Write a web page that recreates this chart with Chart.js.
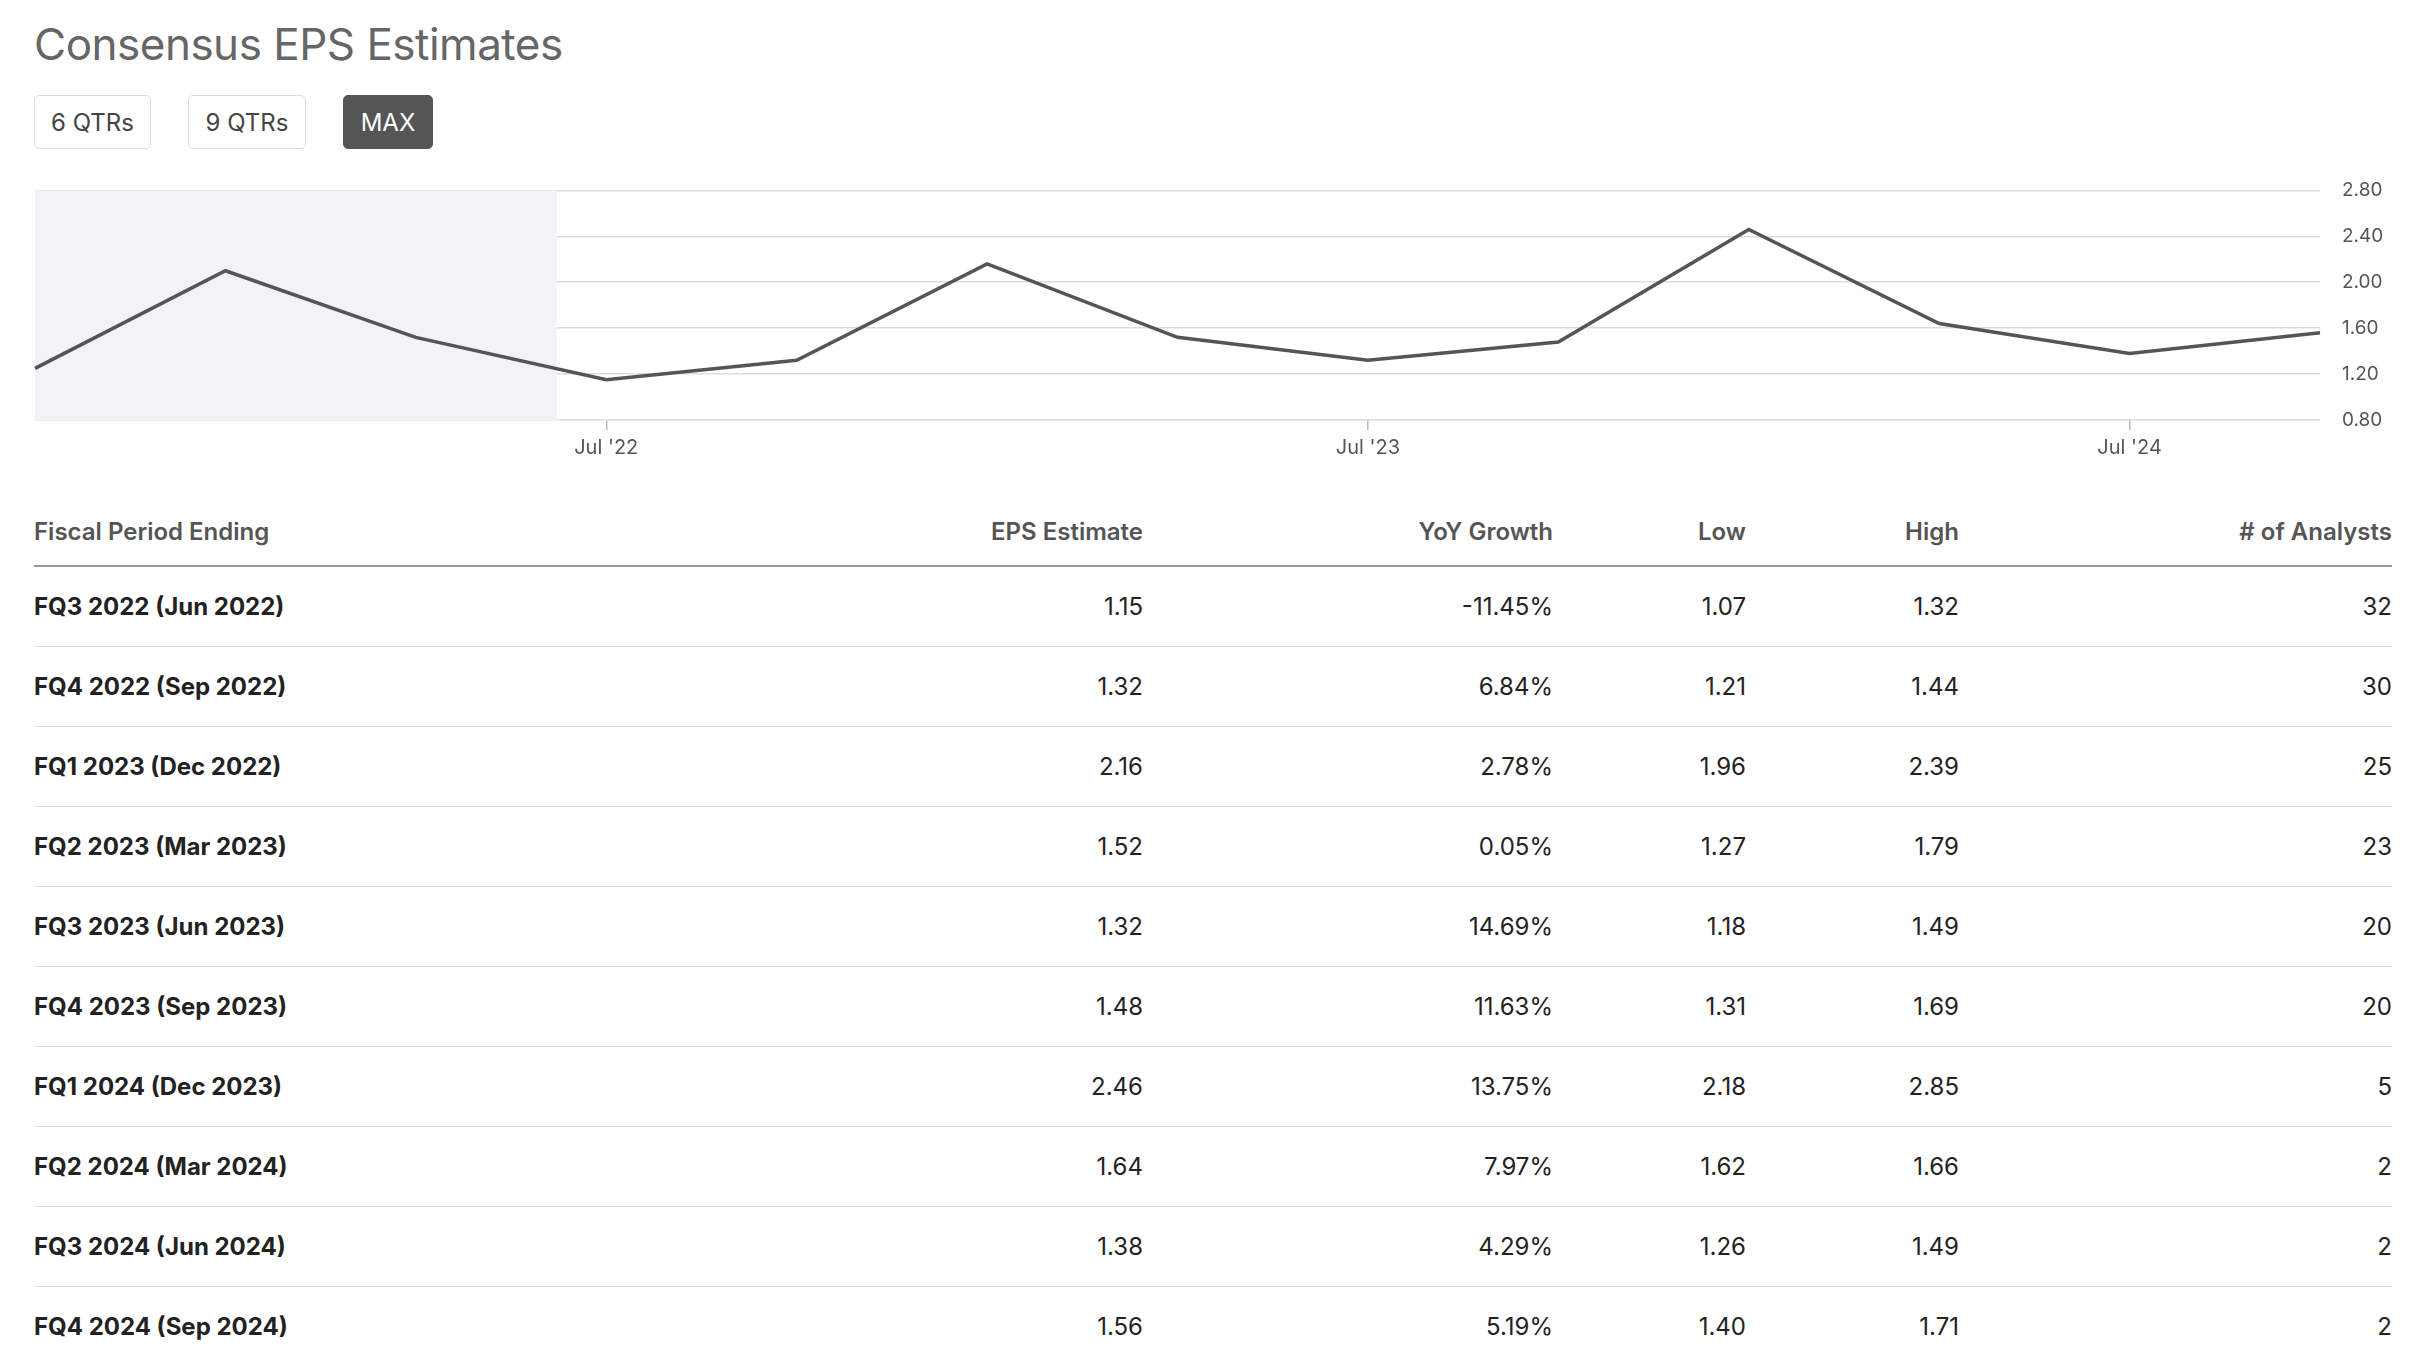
<!DOCTYPE html>
<html>
<head>
<meta charset="utf-8">
<script src="https://cdn.jsdelivr.net/npm/chart.js@4"></script>
<style>
  body { margin: 0; width: 2432px; height: 1358px; background: #fff; font-family: Inter, "Noto Sans", sans-serif; position: relative; overflow: hidden; }
  h1 { position: absolute; left: 34px; top: 17px; margin: 0; font-size: 44px; font-weight: 400; color: #666; letter-spacing: -0.5px; }
  .btn { position: absolute; top: 95px; height: 54px; box-sizing: border-box; border: 1.5px solid #ddd; border-radius: 5px; font-size: 24px; color: #444; display: flex; align-items: center; justify-content: center; }
  .btn.on { background: #555; color: #fff; border-color: #555; }
  #chartBox { position: absolute; left: 29px; top: 157px; width: 2366px; height: 303px; }
  table { position: absolute; left: 34px; top: 517px; width: 2358px; border-collapse: collapse; table-layout: fixed; font-size: 24px; color: #222; }
  th { font-weight: 600; color: #555; height: 48px; vertical-align: top; text-align: right; padding: 0; border-bottom: 2px solid #999; }
  td { height: 79px; text-align: right; padding: 0; border-bottom: 1.5px solid #ddd; }
  th:first-child, td:first-child { text-align: left; }
  td:first-child { font-weight: 700; }
</style>
</head>
<body>
<h1>Consensus EPS Estimates</h1>
<div class="btn" style="left:34px;width:117px">6 QTRs</div>
<div class="btn" style="left:188px;width:118px">9 QTRs</div>
<div class="btn on" style="left:343px;width:90px">MAX</div>
<div id="chartBox"><canvas id="epsChart"></canvas></div>
<table id="epsTable">
  <colgroup><col style="width:600px"><col style="width:509px"><col style="width:410px"><col style="width:193px"><col style="width:213px"><col style="width:433px"></colgroup>
  <thead><tr><th>Fiscal Period Ending</th><th>EPS Estimate</th><th>YoY Growth</th><th>Low</th><th>High</th><th># of Analysts</th></tr></thead>
  <tbody></tbody>
</table>
<script>
// chart series (quarterly, Oct 2021 .. Oct 2024)
const quarters = ["Oct '21", "Jan '22", "Apr '22", "Jul '22", "Oct '22", "Jan '23", "Apr '23", "Jul '23", "Oct '23", "Jan '24", "Apr '24", "Jul '24", "Oct '24"];
const epsLine = [1.25, 2.10, 1.52, 1.15, 1.32, 2.16, 1.52, 1.32, 1.48, 2.46, 1.64, 1.38, 1.56];
const tickLabels = ["Jul '22", "Jul '23", "Jul '24"];
const yTicks = [0.80, 1.20, 1.60, 2.00, 2.40, 2.80];
const historyEnd = 2.74; // shaded "actuals" region ends here (category index)

// table
const periods = ["FQ3 2022 (Jun 2022)", "FQ4 2022 (Sep 2022)", "FQ1 2023 (Dec 2022)", "FQ2 2023 (Mar 2023)", "FQ3 2023 (Jun 2023)", "FQ4 2023 (Sep 2023)", "FQ1 2024 (Dec 2023)", "FQ2 2024 (Mar 2024)", "FQ3 2024 (Jun 2024)", "FQ4 2024 (Sep 2024)"];
const epsEstimate = ["1.15", "1.32", "2.16", "1.52", "1.32", "1.48", "2.46", "1.64", "1.38", "1.56"];
const yoyGrowth = ["-11.45%", "6.84%", "2.78%", "0.05%", "14.69%", "11.63%", "13.75%", "7.97%", "4.29%", "5.19%"];
const lows = ["1.07", "1.21", "1.96", "1.27", "1.18", "1.31", "2.18", "1.62", "1.26", "1.40"];
const highs = ["1.32", "1.44", "2.39", "1.79", "1.49", "1.69", "2.85", "1.66", "1.49", "1.71"];
const analysts = [32, 30, 25, 23, 20, 20, 5, 2, 2, 2];

const tbody = document.querySelector("#epsTable tbody");
periods.forEach((p, i) => {
    const tr = document.createElement("tr");
    [p, epsEstimate[i], yoyGrowth[i], lows[i], highs[i], analysts[i]].forEach(v => {
        const td = document.createElement("td");
        td.textContent = v;
        tr.appendChild(td);
    });
    tbody.appendChild(tr);
});

// shade the past-quarters region
const shadePlugin = {
    id: "shade",
    beforeDatasetsDraw(chart) {
        const { ctx, chartArea, scales } = chart;
        const xEnd = scales.x.getPixelForValue(historyEnd);
        ctx.save();
        ctx.fillStyle = "#f2f3f8";
        ctx.fillRect(chartArea.left, chartArea.top, xEnd - chartArea.left, chartArea.bottom - chartArea.top);
        ctx.restore();
    }
};

new Chart(document.getElementById("epsChart"), {
    type: "line",
    data: {
        labels: quarters,
        datasets: [{
            data: epsLine,
            borderColor: "#555",
            borderWidth: 3.5,
            pointRadius: 0,
            tension: 0,
        }],
    },
    options: {
        responsive: true,
        maintainAspectRatio: false,
        animation: false,
        layout: { padding: { top: 9 } },
        plugins: { legend: { display: false }, tooltip: { enabled: false } },
        scales: {
            x: {
                offset: false,
                afterFit: s => { s.height = 40; },
                border: { display: false },
                grid: {
                    drawOnChartArea: false,
                    tickLength: 10,
                    lineWidth: 1.5,
                    color: c => tickLabels.includes(quarters[c.index]) ? "#bbb" : "rgba(0,0,0,0)",
                },
                ticks: {
                    autoSkip: false,
                    maxRotation: 0,
                    color: "#555",
                    font: { family: "Inter", size: 20 },
                    padding: 6,
                    callback: (v, i) => tickLabels.includes(quarters[i]) ? quarters[i] : "",
                },
            },
            y: {
                position: "right",
                min: yTicks[0],
                max: yTicks[yTicks.length - 1],
                afterFit: s => { s.width = 75; },
                afterBuildTicks: s => { s.ticks = yTicks.map(v => ({ value: v })); },
                border: { display: false },
                grid: { color: "#ddd", lineWidth: 1.5, drawTicks: false },
                ticks: {
                    color: "#555",
                    padding: 22,
                    font: { family: "Inter", size: 19 },
                    callback: v => v.toFixed(2),
                },
            },
        },
    },
    plugins: [shadePlugin],
});
</script>
</body>
</html>
